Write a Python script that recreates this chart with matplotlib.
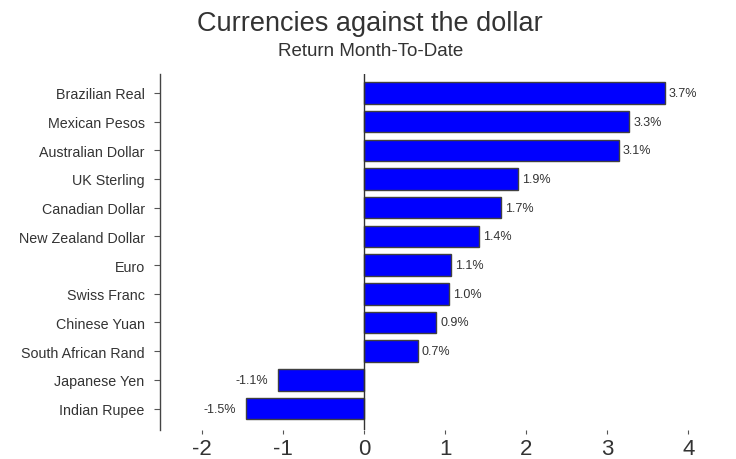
import matplotlib.pyplot as plt
import numpy as np

plt.rcParams['font.family'] = ['Liberation Sans', 'DejaVu Sans']

# data (% return month-to-date)
currencies = ["Brazilian Real", "Mexican Pesos", "Australian Dollar", "UK Sterling",
              "Canadian Dollar", "New Zealand Dollar", "Euro", "Swiss Franc",
              "Chinese Yuan", "South African Rand", "Japanese Yen", "Indian Rupee"]
returns = [3.71, 3.27, 3.14, 1.90, 1.69, 1.42, 1.07, 1.04, 0.89, 0.66, -1.06, -1.46]
x_ticks = [-2, -1, 0, 1, 2, 3, 4]

fig = plt.figure(figsize=(7.36, 4.6), dpi=100)
ax = fig.add_axes([0.2174, 0.063, 0.74, 0.774])

pos = np.arange(len(currencies))
ax.barh(pos, returns, height=0.75, color="#0000ff", edgecolor="#404040", linewidth=1)
ax.axvline(0, color="#333333", linewidth=1)

# value labels next to each bar
for p, v in zip(pos, returns):
    if v >= 0:
        ax.text(v + 0.05, p, f"{v:.1f}%", va="center", ha="left", fontsize=9, color="#333333")
    else:
        ax.text(v - 0.12, p, f"{v:.1f}%", va="center", ha="right", fontsize=9, color="#333333")

ax.set_yticks(pos)
ax.set_yticklabels(currencies, fontsize=10.3, color="#333333")
ax.set_ylim(11.75, -0.66)
ax.set_xlim(-2.52, 4.2)
ax.set_xticks(x_ticks)
ax.set_xticklabels([str(t) for t in x_ticks], fontsize=16, color="#333333")

for side in ["top", "right", "bottom"]:
    ax.spines[side].set_visible(False)
ax.spines["left"].set_color("#444444")
ax.spines["left"].set_linewidth(1)
ax.tick_params(axis="y", length=4, color="#555555", pad=7)
ax.tick_params(axis="x", length=3, color="#555555", pad=3)

fig.text(0.502, 0.932, "Currencies against the dollar", ha="center", va="baseline",
         fontsize=19.5, color="#333333")
fig.text(0.504, 0.879, "Return Month-To-Date", ha="center", va="baseline",
         fontsize=13.5, color="#333333")

fig.savefig("out.png", dpi=100)
